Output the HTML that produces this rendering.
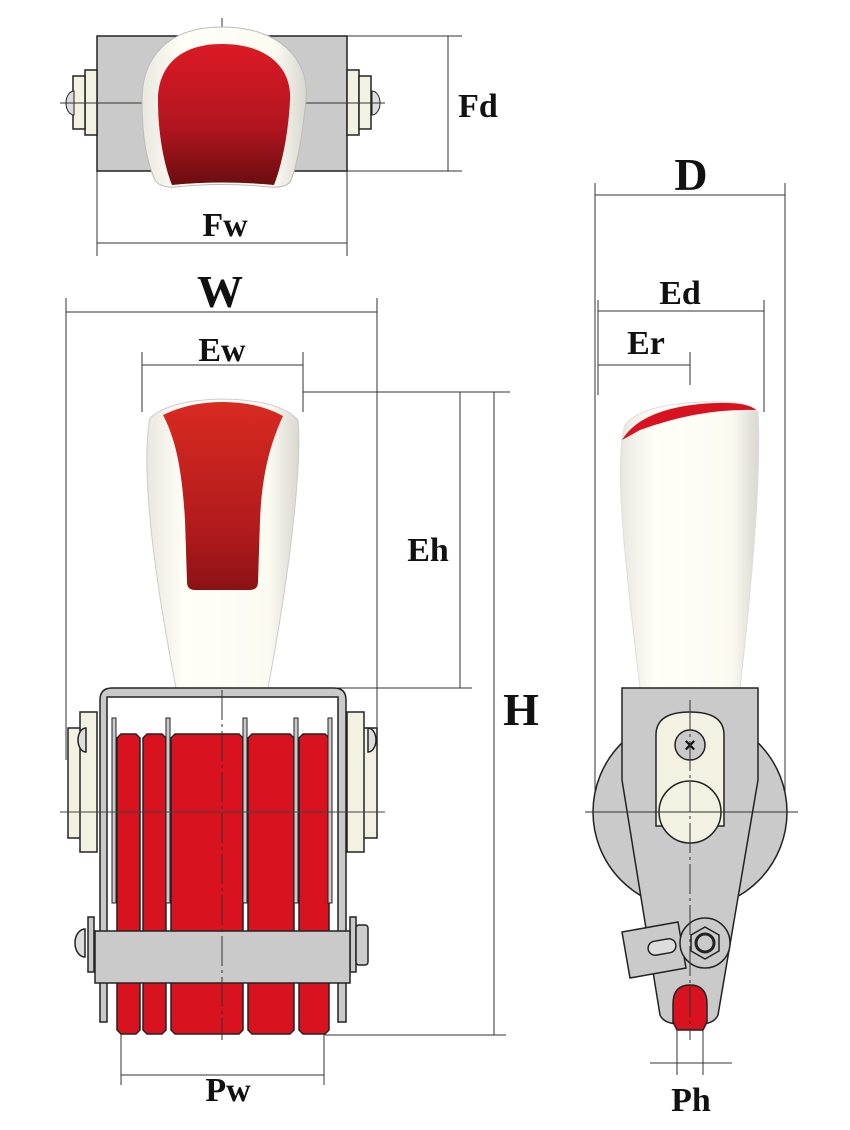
<!DOCTYPE html>
<html><head><meta charset="utf-8"><style>html,body{margin:0;padding:0;background:#fff}svg{display:block}</style></head><body>
<svg width="850" height="1130" viewBox="0 0 850 1130" xmlns="http://www.w3.org/2000/svg">
<defs>
<linearGradient id="rg" x1="0" y1="0" x2="0" y2="1"><stop offset="0" stop-color="#dc1a24"/><stop offset="0.6" stop-color="#b01520"/><stop offset="1" stop-color="#6a0d10"/></linearGradient>
<linearGradient id="rg2" x1="0" y1="0" x2="0" y2="1"><stop offset="0" stop-color="#d82a22"/><stop offset="0.7" stop-color="#b01a1c"/><stop offset="1" stop-color="#8a1214"/></linearGradient>
<linearGradient id="wg" x1="0" y1="0" x2="1" y2="0"><stop offset="0" stop-color="#e8e8e0"/><stop offset="0.25" stop-color="#fffff8"/><stop offset="0.8" stop-color="#fbfbf2"/><stop offset="1" stop-color="#d8d8d0"/></linearGradient>
</defs>
<g font-family="Liberation Serif, serif" font-weight="bold" fill="#111" text-anchor="middle">
<text x="478" y="117" font-size="34">Fd</text>
<text x="225" y="236" font-size="34">Fw</text>
<text x="220" y="307" font-size="46">W</text>
<text x="222" y="361" font-size="34">Ew</text>
<text x="428" y="561" font-size="34">Eh</text>
<text x="521" y="725" font-size="46">H</text>
<text x="228" y="1101" font-size="34">Pw</text>
<text x="691" y="190" font-size="46">D</text>
<text x="680" y="304" font-size="34">Ed</text>
<text x="646" y="354" font-size="34">Er</text>
<text x="691" y="1111" font-size="34">Ph</text>
</g>
<g stroke="#333" stroke-width="1" fill="none">
<!-- top dims -->
<line x1="347" y1="36" x2="462" y2="36"/><line x1="347" y1="171" x2="462" y2="171"/><line x1="448" y1="36" x2="448" y2="171"/>
<line x1="97" y1="171" x2="97" y2="256"/><line x1="347" y1="171" x2="347" y2="256"/><line x1="97" y1="243" x2="347" y2="243"/>
<!-- W -->
<line x1="66" y1="298" x2="66" y2="760"/><line x1="377" y1="298" x2="377" y2="740"/><line x1="66" y1="312" x2="377" y2="312"/>
<line x1="142" y1="352" x2="142" y2="412"/><line x1="303" y1="352" x2="303" y2="412"/><line x1="142" y1="365" x2="303" y2="365"/>
<line x1="303" y1="392" x2="510" y2="392"/><line x1="320" y1="688" x2="472" y2="688"/><line x1="460" y1="392" x2="460" y2="688"/>
<line x1="494" y1="392" x2="494" y2="1035"/><line x1="325" y1="1035" x2="506" y2="1035"/>
<line x1="121" y1="1030" x2="121" y2="1085"/><line x1="324" y1="1030" x2="324" y2="1085"/><line x1="121" y1="1075" x2="324" y2="1075"/>
<!-- side -->
<line x1="595" y1="183" x2="595" y2="815"/><line x1="785" y1="183" x2="785" y2="810"/><line x1="595" y1="195" x2="785" y2="195"/>
<line x1="598" y1="300" x2="598" y2="395"/><line x1="764" y1="300" x2="764" y2="412"/><line x1="598" y1="311" x2="764" y2="311"/>
<line x1="690" y1="352" x2="690" y2="385"/><line x1="598" y1="365" x2="690" y2="365"/>
<line x1="677" y1="1028" x2="677" y2="1075"/><line x1="703" y1="1028" x2="703" y2="1075"/><line x1="650" y1="1063" x2="732" y2="1063"/>
</g>
<!-- TOP VIEW -->
<rect x="97" y="36" width="250" height="135" fill="#cacaca" stroke="#222" stroke-width="1.5"/>
<g fill="#f3f1e2" stroke="#222" stroke-width="1.5">
<rect x="85" y="70" width="12" height="65"/><rect x="73" y="76" width="12" height="53"/>
<rect x="347" y="70" width="12" height="65"/><rect x="359" y="76" width="12" height="53"/>
</g>
<path d="M66 103 a8 12 0 0 1 8 -12 v24 a8 12 0 0 1 -8 -12z M380 103 a8 12 0 0 0 -8 -12 v24 a8 12 0 0 0 8 -12z" fill="#ddd" stroke="#222"/>
<line x1="60" y1="103" x2="385" y2="103" stroke="#333"/>
<line x1="222" y1="18" x2="222" y2="30" stroke="#333"/>
<path d="M222 27 C 280 27 310 60 306 100 C 302 140 296 170 290 182 Q 285 188 270 187 Q 222 182 175 187 Q 160 188 155 180 C 148 165 142 140 142 100 C 142 60 165 27 222 27Z" fill="url(#wg)" stroke="#bbb"/>
<path d="M222 44 C 270 44 292 70 290 100 C 288 140 280 170 274 185 Q 222 180 172 185 C 166 170 158 140 158 100 C 158 70 176 44 222 44Z" fill="url(#rg)"/>
<!-- FRONT VIEW knob -->
<path d="M150 418 Q 170 400 222 399 Q 280 400 298 420 C 302 460 292 560 268 688 L 176 688 C 155 580 140 470 150 418Z" fill="url(#wg)" stroke="#ccc"/>
<path d="M163 415 Q 190 402 222 402 Q 258 402 283 416 C 272 440 262 470 260 520 L 258 582 Q 258 590 250 590 L 195 590 Q 187 590 187 582 L 185 520 C 182 470 176 440 163 415Z" fill="url(#rg2)"/>
<!-- frame -->
<g stroke="#222" stroke-width="1.5">
<rect x="68" y="728" width="17" height="110" fill="#f3f1e2"/><rect x="80" y="712" width="17" height="140" fill="#f3f1e2"/>
<rect x="360" y="728" width="17" height="110" fill="#f3f1e2"/><rect x="347" y="712" width="17" height="140" fill="#f3f1e2"/>
<path d="M100 1022 V700 Q100 688 112 688 H334 Q346 688 346 700 V1022 H338 V697 H107 V1022Z" fill="#cacaca"/>
<g fill="#d8121f">
<path d="M117 738 l4 -4 h15 l4 4 v292 l-4 4 h-15 l-4 -4z"/>
<path d="M143 738 l4 -4 h15 l4 4 v292 l-4 4 h-15 l-4 -4z"/>
<path d="M171 738 l4 -4 h64 l4 4 v292 l-4 4 h-64 l-4 -4z"/>
<path d="M248 738 l4 -4 h38 l4 4 v292 l-4 4 h-38 l-4 -4z"/>
<path d="M299 738 l4 -4 h22 l4 4 v292 l-4 4 h-22 l-4 -4z"/>
</g>
<g fill="#cacaca" stroke-width="1">
<rect x="112" y="718" width="4" height="185"/><rect x="166" y="718" width="4" height="185"/><rect x="243" y="718" width="4" height="185"/><rect x="294" y="718" width="4" height="185"/><rect x="328" y="718" width="4" height="185"/>
</g>
<path d="M75 943 a10 14 0 0 1 10 -14 v28 a10 14 0 0 1 -10 -14z M78 740 a8 12 0 0 1 8 -12 v24 a8 12 0 0 1 -8 -12z M376 740 a8 12 0 0 0 -8 -12 v24 a8 12 0 0 0 8 -12z" fill="#ddd"/>
<rect x="88" y="917" width="6" height="55" fill="#cacaca"/><rect x="350" y="917" width="6" height="55" fill="#cacaca"/>
<rect x="356" y="925" width="12" height="40" rx="3" fill="#ccc"/>
<rect x="95" y="931" width="255" height="52" fill="#cacaca"/>
</g>
<line x1="60" y1="812" x2="385" y2="812" stroke="#444"/>
<line x1="222" y1="690" x2="222" y2="1040" stroke="#333" stroke-dasharray="30 4 3 4"/>
<!-- SIDE VIEW knob -->
<path d="M625 425 Q 640 405 700 402 Q 750 400 758 412 C 762 480 750 600 740 688 L 640 688 C 630 600 612 470 625 425Z" fill="url(#wg)" stroke="#ddd"/>
<path d="M622 440 Q 640 410 700 404 Q 745 400 756 410 Q 700 408 640 430 Z" fill="#d8121f"/>
<!-- body -->
<g stroke="#222" stroke-width="1.5">
<circle cx="690" cy="812" r="97" fill="#cacaca"/>
<path d="M622 688 H758 V780 L718 1015 Q714 1024 700 1024 H680 Q664 1024 660 1015 L622 780Z" fill="#cacaca"/>
<path d="M656 735 Q656 712 690 712 Q724 712 724 735 V826 H656Z" fill="#f3f1e2"/>
<circle cx="690" cy="745" r="15" fill="#cacaca"/>
<circle cx="690" cy="812" r="31" fill="#f3f1e2"/>
<path d="M622 932 L678 922 L686 968 L630 978Z" fill="#cacaca"/>
<rect x="648" y="940" width="28" height="14" rx="7" fill="#ddd" transform="rotate(-10 662 947)"/>
<circle cx="705" cy="943" r="25" fill="#cacaca"/>
<polygon points="705,927 719,935 719,951 705,959 691,951 691,935" fill="#cacaca"/>
<circle cx="705" cy="943" r="9" fill="#cacaca" stroke-width="3"/>
<path d="M673 1004 Q673 985 690 985 Q707 985 707 1004 V1022 L703 1030 H677 L673 1022Z" fill="#d8121f"/>
</g>
<text x="690" y="752" font-family="Liberation Sans, sans-serif" font-size="20" font-weight="bold" text-anchor="middle" fill="#111">×</text>
<line x1="585" y1="812" x2="798" y2="812" stroke="#333"/>
<line x1="690" y1="700" x2="690" y2="1040" stroke="#333" stroke-dasharray="30 4 3 4"/>
</svg>
</body></html>
